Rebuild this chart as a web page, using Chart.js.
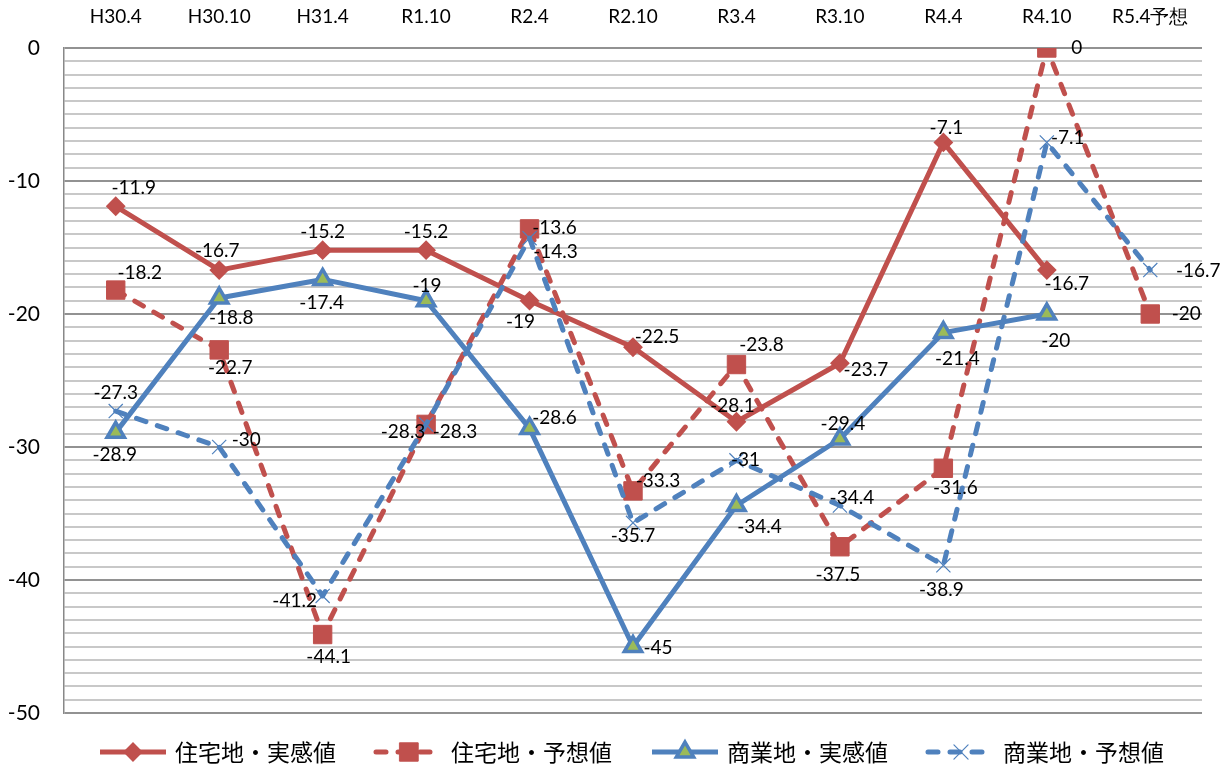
<!DOCTYPE html>
<html>
<head>
<meta charset="utf-8">
<script src="https://cdn.jsdelivr.net/npm/chart.js@4/dist/chart.umd.min.js"></script>
<style>
  html, body { margin: 0; padding: 0; background: #fff; }
  #wrap { width: 1232px; height: 776px; }
</style>
</head>
<body>
<div id="wrap"><canvas id="c" width="1232" height="776"></canvas></div>
<script>
// Survey periods and DI values
const periods = ['H30.4', 'H30.10', 'H31.4', 'R1.10', 'R2.4', 'R2.10', 'R3.4', 'R3.10', 'R4.4', 'R4.10', 'R5.4予想'];
const residentialActual   = [-11.9, -16.7, -15.2, -15.2, -19, -22.5, -28.1, -23.7, -7.1, -16.7, null];
const residentialForecast = [-18.2, -22.7, -44.1, -28.3, -13.6, -33.3, -23.8, -37.5, -31.6, 0, -20];
const commercialActual    = [-28.9, -18.8, -17.4, -19, -28.6, -45, -34.4, -29.4, -21.4, -20, null];
const commercialForecast  = [-27.3, -30, -41.2, -28.3, -14.3, -35.7, -31, -34.4, -38.9, -7.1, -16.7];
const seriesNames = ['住宅地・実感値', '住宅地・予想値', '商業地・実感値', '商業地・予想値'];
const yMin = -50, yMax = 0, yLabelStep = 10;

// Where each value label sits relative to its point (centre offset in px)
const offResActual = [[18,-18],[-2,-19],[0,-18],[0,-18],[-9,21],[24,-10],[-4,-16],[26,7],[3,-15],[20,14],null];
const offResForecast = [[24,-17],[11,18],[6,22],[-23,7],[25,-1],[25,-10],[25,-20],[-2,28],[12,20],[30,0],[36,0]];
const offComActual = [[-1,23],[12,20],[-1,23],[1,-15],[25,-11],[25,1],[23,21],[3,-15],[14,26],[9,27],null];
const offComForecast = [[0,-18],[27,-7],[-28,5],[29,7],[26,14],[0,13],[9,0],[12,-8],[-2,25],[21,-5],[48,1]];

const RED = '#C0504D', BLUE = '#4F81BD', GREEN = '#9BBB59';

const valueLabels = {
  id: 'valueLabels',
  afterDatasetsDraw(chart) {
    const ctx = chart.ctx;
    ctx.save();
    ctx.font = '19px Lato';
    ctx.fillStyle = '#000';
    ctx.textAlign = 'center';
    ctx.textBaseline = 'middle';
    chart.data.datasets.forEach((ds, di) => {
      const meta = chart.getDatasetMeta(di);
      meta.data.forEach((pt, i) => {
        const v = ds.data[i];
        if (v === null || v === undefined) return;
        const off = ds.labelOffsets[i] || [0, -18];
        ctx.fillText(String(v), pt.x + off[0], pt.y + off[1]);
      });
    });
    ctx.restore();
  }
};

const bottomLegend = {
  id: 'bottomLegend',
  afterDraw(chart) {
    const ctx = chart.ctx;
    const y = 752;
    chart.data.datasets.forEach((ds, i) => {
      const x0 = 100 + 276 * i;
      ctx.save();
      ctx.strokeStyle = ds.borderColor;
      ctx.lineWidth = ds.borderWidth;
      ctx.lineCap = ds.borderCapStyle || 'butt';
      ctx.setLineDash(ds.borderDash || []);
      ctx.beginPath();
      ctx.moveTo(x0, y);
      ctx.lineTo(x0 + 66, y);
      ctx.stroke();
      ctx.setLineDash([]);
      ctx.fillStyle = ds.pointBackgroundColor;
      ctx.strokeStyle = ds.pointBorderColor;
      ctx.lineWidth = ds.pointBorderWidth;
      Chart.helpers.drawPoint(ctx, {
        pointStyle: ds.pointStyle, radius: ds.pointRadius,
        borderWidth: ds.pointBorderWidth, rotation: 0
      }, x0 + 33, y);
      ctx.font = '23px "Noto Sans CJK JP"';
      ctx.fillStyle = '#000';
      ctx.textAlign = 'left';
      ctx.textBaseline = 'middle';
      ctx.fillText(ds.label, x0 + 75, y);
      ctx.restore();
    });
  }
};

function series(label, data, color, dashed, style, radius, fill, pbw, offsets, order) {
  return {
    label, data,
    borderColor: color,
    borderWidth: 5,
    borderDash: dashed ? [10, 12] : [],
    borderCapStyle: dashed ? 'round' : 'butt',
    borderJoinStyle: 'round',
    tension: 0,
    fill: false,
    spanGaps: false,
    pointStyle: style,
    pointRadius: radius,
    pointHoverRadius: radius,
    pointBackgroundColor: fill,
    pointBorderColor: color,
    pointBorderWidth: pbw,
    labelOffsets: offsets,
    order
  };
}

new Chart(document.getElementById('c'), {
  type: 'line',
  data: {
    labels: periods,
    datasets: [
      series(seriesNames[0], residentialActual, RED, false, 'rectRot', 8.5, RED, 2, offResActual, 4),
      series(seriesNames[1], residentialForecast, RED, true, 'rect', 13, RED, 1, offResForecast, 3),
      series(seriesNames[2], commercialActual, BLUE, false, 'triangle', 10, GREEN, 3.5, offComActual, 2),
      series(seriesNames[3], commercialForecast, BLUE, true, 'crossRot', 10, BLUE, 1.2, offComForecast, 1)
    ]
  },
  options: {
    responsive: false,
    devicePixelRatio: 1,
    animation: false,
    events: [],
    layout: { padding: { left: 0, right: 30, top: 0, bottom: 63 } },
    plugins: { legend: { display: false }, tooltip: { enabled: false } },
    scales: {
      x: {
        position: 'top',
        offset: true,
        grid: { display: false, drawTicks: false },
        border: { display: false },
        ticks: {
          font: { family: 'Lato', size: 19 },
          color: '#000',
          padding: 20,
          maxRotation: 0,
          autoSkip: false
        },
        afterFit(scale) { scale.height = 48; }
      },
      y: {
        min: yMin,
        max: yMax,
        grid: {
          drawTicks: false,
          lineWidth: 2,
          color: (c) => (c.tick && c.tick.value % yLabelStep === 0) ? '#929292' : '#C8C8C8'
        },
        border: { display: true, color: '#888', width: 1.5 },
        ticks: {
          stepSize: 1,
          autoSkip: false,
          font: { family: 'Lato', size: 21 },
          color: '#000',
          padding: 24,
          callback: (v) => (v % yLabelStep === 0 ? String(v) : '')
        },
        afterFit(scale) { scale.width = 64; }
      }
    }
  },
  plugins: [valueLabels, bottomLegend]
});
</script>
</body>
</html>
